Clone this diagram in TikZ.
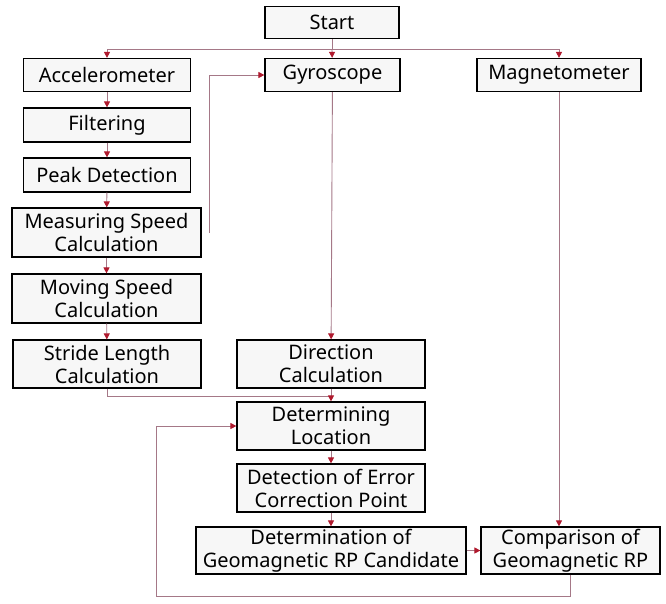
\documentclass[tikz,border=0pt]{standalone}
\usepackage{fontspec}
\setmainfont{Noto Sans}
\usetikzlibrary{arrows.meta}
\definecolor{linemauve}{RGB}{165,120,135}
\definecolor{tipred}{RGB}{175,25,45}
\definecolor{boxfill}{RGB}{247,247,247}

\begin{document}
\begin{tikzpicture}[x=1pt,y=-1pt,
    box/.style={draw=black,line width=1.2pt,fill=boxfill,inner sep=0pt,
      align=center,font=\fontsize{20}{23}\selectfont},
    link/.style={draw=linemauve,line width=0.9pt},
    flow/.style={link,-{Triangle[length=6pt,width=6pt,color=tipred]}}]
    \useasboundingbox (0,0) rectangle (666,603);
    % Sensors
    \node[box,minimum width=134pt,minimum height=32pt] (start) at (332,22.5) {Start};
    \node[box,minimum width=167pt,minimum height=33pt] (acc) at (107,75) {Accelerometer};
    \node[box,minimum width=135pt,minimum height=33pt] (gyro) at (332.5,75) {Gyroscope};
    \node[box,minimum width=164pt,minimum height=33pt] (mag) at (559,75) {Magnetometer};
    % Step branch
    \node[box,minimum width=167pt,minimum height=34pt] (filt) at (107,125) {Filtering};
    \node[box,minimum width=167pt,minimum height=34pt] (peak) at (107,175) {Peak Detection};
    \node[box,minimum width=189pt,minimum height=49pt] (meas) at (106.5,232.5) {Measuring Speed\\Calculation};
    \node[box,minimum width=189pt,minimum height=49pt] (mov) at (106.5,298.5) {Moving Speed\\Calculation};
    \node[box,minimum width=188pt,minimum height=48pt] (stride) at (107,364) {Stride Length\\Calculation};
    % Location branch
    \node[box,minimum width=188pt,minimum height=48pt] (dir) at (331,364) {Direction\\Calculation};
    \node[box,minimum width=188pt,minimum height=48pt] (loc) at (331,426) {Determining\\Location};
    \node[box,minimum width=188pt,minimum height=48pt] (det) at (331,488) {Detection of Error\\Correction Point};
    \node[box,minimum width=270pt,minimum height=47pt] (cand) at (331,550.5) {Determination of\\Geomagnetic RP Candidate};
    \node[box,minimum width=179pt,minimum height=47pt] (comp) at (570.5,550.5) {Comparison of\\Geomagnetic RP};
    % Helper points
    \coordinate (bus) at (332,49);
    \coordinate (gyin) at (209,233);
    \coordinate (join) at (331,396);
    \coordinate (fb) at (156,596);
    % Connectors
    \draw[link] (start) -- (bus);
    \draw[flow] (bus) -| (acc);
    \draw[flow] (bus) -- (gyro);
    \draw[flow] (bus) -| (mag);
    \draw[flow] (acc) -- (filt);
    \draw[flow] (filt) -- (peak);
    \draw[flow] (peak) -- (meas);
    \draw[flow] (meas) -- (mov);
    \draw[flow] (mov) -- (stride);
    \draw[flow] (gyin) |- (gyro);
    \draw[flow] (gyro) -- (dir);
    \draw[link] (stride) |- (join);
    \draw[flow] (dir) -- (loc);
    \draw[flow] (loc) -- (det);
    \draw[flow] (det) -- (cand);
    \draw[flow] (cand) -- (comp);
    \draw[flow] (mag.south) -- (mag.south |- comp.north);
    \draw[flow] (comp) |- (fb) |- (loc);
\end{tikzpicture}
\end{document}
